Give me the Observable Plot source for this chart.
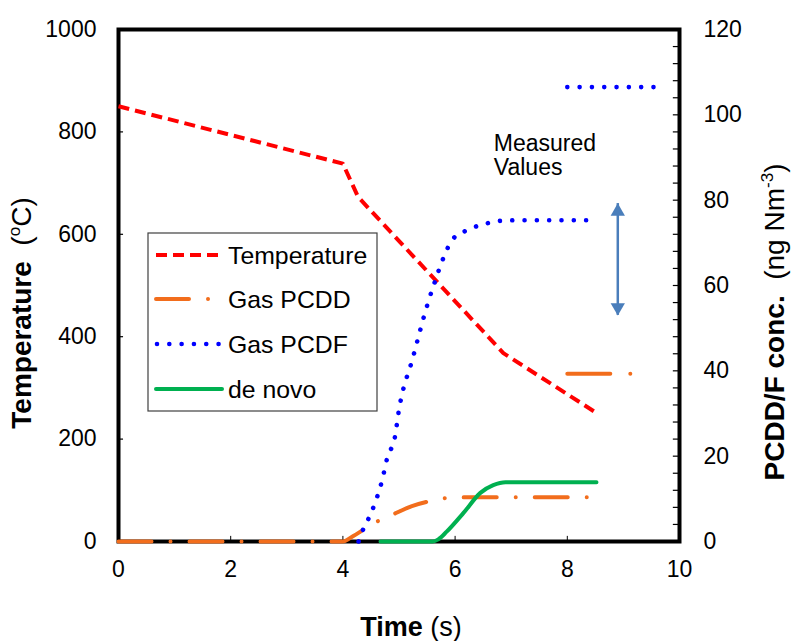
<!DOCTYPE html>
<html><head><meta charset="utf-8">
<script src="https://cdn.jsdelivr.net/npm/d3@7"></script>
<script src="https://cdn.jsdelivr.net/npm/@observablehq/plot@0.6"></script>
<style>
body{margin:0;background:#fff;}
#chart{position:relative;width:792px;height:641px;}
</style>
</head><body><div id="chart"></div>
<script>
// ---- data ----
const tempTime = [0, 4.0, 4.27, 6.86, 8.52];
const tempValue = [850, 738, 673, 368, 251];            // °C (left axis)

const pcddTime = [0, 4.0, 4.15, 4.36, 4.52, 4.79, 5.23, 5.5, 5.86, 6.45, 8.52];
const pcddValue = [0, 0, 1.0, 2.7, 4.1, 5.7, 8.3, 9.3, 10.2, 10.4, 10.4];   // ng Nm-3

const pcdfTime = [4.28, 4.34, 4.43, 4.58, 4.7, 4.79, 4.93, 4.99, 5.25, 5.52, 5.65, 5.79, 5.95, 6.22, 6.58, 6.75, 7.16, 8.47];
const pcdfValue = [0, 2.2, 4.6, 9.3, 14.4, 19.6, 24.7, 30.1, 43.2, 56.1, 61.3, 66.4, 70.7, 73.0, 74.6, 75.1, 75.3, 75.3];

const denovoTime = [4.67, 5.6, 5.7, 5.85, 6.15, 6.45, 6.68, 6.9, 8.52];
const denovoValue = [0, 0, 0.5, 2.3, 6.7, 11.4, 13.2, 13.9, 13.9];

const measuredPcdfTime = [8.0, 9.54];
const measuredPcdfValue = [106.5, 106.5];
const measuredPcddTime = [8.0, 9.22];
const measuredPcddValue = [39.3, 39.3];

const rangeArrowTime = [8.9];
const rangeArrowLow = [53.0];
const rangeArrowHigh = [79.2];

const noteText = ["Measured", "Values"];
const noteTime = [6.69, 6.69];
const noteConc = [91.6, 85.8];

const xTicks = [0, 2, 4, 6, 8, 10];
const xInnerTicks = [2, 4, 6, 8];
const tempTicks = [0, 200, 400, 600, 800, 1000];
const concTicks = [0, 20, 40, 60, 80, 100, 120];
const concMinor = d3.range(0, 121, 4);

const seriesNames = ["Temperature", "Gas PCDD", "Gas PCDF", "de novo"];

// ---- styling ----
const K = 1000 / 120;   // right-axis units -> left-axis units
const styles = {
  "Temperature": {stroke: "#ff0000", strokeWidth: 4, strokeDasharray: "11,6", strokeLinecap: "butt"},
  "Gas PCDD": {stroke: "#f26d1c", strokeWidth: 4, strokeDasharray: "33,19,0.01,19", strokeLinecap: "round"},
  "Gas PCDF": {stroke: "#0000ff", strokeWidth: 4.6, strokeDasharray: "0.01,12.3", strokeLinecap: "round"},
  "de novo": {stroke: "#00b050", strokeWidth: 4, strokeDasharray: null, strokeLinecap: "round"}
};
const FONT = "'Liberation Sans', Arial, Helvetica, sans-serif";

const rows = (ts, vs, k = 1) => ts.map((t, i) => ({t, v: vs[i] * k}));
const tempData = rows(tempTime, tempValue);
const pcddData = rows(pcddTime, pcddValue, K);
const pcdfData = rows(pcdfTime, pcdfValue, K);
const denovoData = rows(denovoTime, denovoValue, K);
const mPcdf = rows(measuredPcdfTime, measuredPcdfValue, K);
const mPcdd = rows(measuredPcddTime, measuredPcddValue, K);
const arrowData = rangeArrowTime.map((t, i) => ({t, lo: rangeArrowLow[i] * K, hi: rangeArrowHigh[i] * K}));
const noteData = noteText.map((s, i) => ({t: noteTime[i], v: noteConc[i] * K, s}));

const lineMark = (data, name, extra = {}) => {
  const s = styles[name];
  const o = {x: "t", y: "v", stroke: s.stroke, strokeWidth: s.strokeWidth, strokeLinecap: s.strokeLinecap, strokeLinejoin: "round", curve: "monotone-x", ...extra};
  if (s.strokeDasharray && !("strokeDasharray" in extra)) o.strokeDasharray = s.strokeDasharray;
  return Plot.line(data, o);
};

const arrowColor = "#4a7ebb";

const plot = Plot.plot({
  width: 792, height: 641,
  marginLeft: 118, marginRight: 113, marginTop: 29, marginBottom: 100,
  x: {domain: [0, 10]},
  y: {domain: [0, 1000]},
  style: {fontFamily: FONT, fontSize: "23px", background: "white", color: "black", overflow: "visible"},
  marks: [
    Plot.axisX(xTicks, {tickSize: 0, tickPadding: 19, fontSize: 23, label: null, tickFormat: d => String(d)}),
    Plot.axisY(tempTicks, {anchor: "left", tickSize: 0, tickPadding: 22, fontSize: 23, label: null, tickFormat: d => String(d)}),
    Plot.axisY(concTicks.map(c => c * K), {anchor: "right", tickSize: 0, tickPadding: 24, fontSize: 23, label: null, tickFormat: d => String(Math.round(d / K))}),
    // inner tick marks
    Plot.ruleX(xInnerTicks, {x: d => d, y1: 0, y2: 10, stroke: "black", strokeWidth: 1}),
    Plot.ruleY(tempTicks.slice(1, -1), {y: d => d, x1: 0, x2: 0.09, stroke: "black", strokeWidth: 1.2}),
    Plot.ruleY(concMinor.slice(1, -1), {y: d => d * K, x1: 10 - 0.11, x2: 10, stroke: "black", strokeWidth: 1.2}),
    Plot.frame({stroke: "black", strokeWidth: 4}),
    // series
    lineMark(tempData, "Temperature", {curve: "linear"}),
    lineMark(pcddData, "Gas PCDD"),
    lineMark(denovoData, "de novo"),
    lineMark(pcdfData, "Gas PCDF"),
    lineMark(mPcdf, "Gas PCDF", {curve: "linear"}),
    lineMark(mPcdd, "Gas PCDD", {curve: "linear", strokeDasharray: "43,20,0.01,20"}),
    // measured range arrow
    Plot.ruleX(arrowData, {x: "t", y1: "lo", y2: "hi", stroke: arrowColor, strokeWidth: 2.5}),
    Plot.dot(arrowData, {x: "t", y: "hi", symbol: "triangle", r: 5.3, fill: arrowColor, stroke: null, dy: 8}),
    Plot.dot(arrowData, {x: "t", y: "lo", symbol: "triangle", r: 5.3, fill: arrowColor, stroke: null, rotate: 180, dy: -8}),
    // annotation
    Plot.text(noteData, {x: "t", y: "v", text: "s", textAnchor: "start", lineAnchor: "bottom", fontSize: 23, fill: "black"})
  ]
});

const svg = d3.select(plot);

// ---- axis titles ----
function title(x, y, rot, size, parts) {
  const t = svg.append("text")
    .attr("transform", `translate(${x},${y})` + (rot ? ` rotate(${rot})` : ""))
    .attr("text-anchor", "middle")
    .attr("font-family", FONT)
    .attr("font-size", size)
    .attr("fill", "black");
  for (const p of parts) {
    const ts = t.append("tspan").text(p.text);
    if (p.bold) ts.attr("font-weight", "bold");
    if (p.size) ts.attr("font-size", p.size);
    if (p.dy) ts.attr("dy", p.dy);
  }
}
title(31, 313, -90, 28, [
  {text: "Temperature", bold: true},
  {text: "\u00a0\u00a0("},
  {text: "o", size: 17, dy: -11},
  {text: "C)", dy: 11}
]);
title(784, 322, -90, 28, [
  {text: "PCDD/F conc.", bold: true},
  {text: "\u00a0\u00a0(ng Nm"},
  {text: "-3", size: 17, dy: -11},
  {text: ")", dy: 11}
]);
title(411, 636, 0, 27, [
  {text: "Time", bold: true},
  {text: "\u00a0(s)"}
]);

// ---- legend ----
const lg = svg.append("g");
lg.append("rect").attr("x", 148).attr("y", 233).attr("width", 229).attr("height", 178)
  .attr("fill", "white").attr("stroke", "#404040").attr("stroke-width", 1.2);
const rowY = [255, 299, 344, 389];
seriesNames.forEach((name, i) => {
  const s = styles[name];
  const ln = lg.append("line")
    .attr("x1", name === "Gas PCDF" ? 157 : 156).attr("x2", 222)
    .attr("y1", rowY[i]).attr("y2", rowY[i])
    .attr("stroke", s.stroke).attr("stroke-width", s.strokeWidth)
    .attr("stroke-linecap", s.strokeLinecap);
  if (s.strokeDasharray) ln.attr("stroke-dasharray", s.strokeDasharray);
  lg.append("text").attr("x", 228).attr("y", rowY[i]).attr("dy", "0.35em")
    .attr("text-anchor", "start")
    .attr("font-family", FONT).attr("font-size", 24.8).attr("fill", "black").text(name);
});

document.getElementById("chart").appendChild(plot);
</script>
</body></html>
